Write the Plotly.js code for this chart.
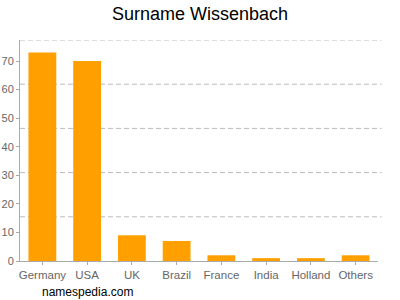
<!DOCTYPE html>
<html><head><meta charset="utf-8">
<script src="https://cdn.plot.ly/plotly-3.0.1.min.js"></script>
<style>html,body{margin:0;padding:0;background:#fff}#c{width:400px;height:300px}</style>
</head><body><div id="c"></div>
<script>
const categories = ["Germany","USA","UK","Brazil","France","India","Holland","Others"];
const values = [73,70,9,7,2,1,1,2];
const yTicks = [0,10,20,30,40,50,60,70];
const yMax = 77.35;
const gridLevels = [1,2,3,4,5].map(i => yMax*i/5);

const data = [
  {type:'bar', x:categories, y:values, marker:{color:'#ffa000'}, hoverinfo:'none'}
];
const layout = {
  width:400, height:300,
  margin:{l:20, r:22, t:40, b:39},
  paper_bgcolor:'#fff', plot_bgcolor:'#fff',
  showlegend:false, bargap:0.378,
  title:{text:'Surname Wissenbach', font:{family:'Liberation Sans, Arial, sans-serif', size:18, color:'#000'}, x:0.5, xanchor:'center', y:0.955, yanchor:'middle'},
  font:{family:'Liberation Sans, Arial, sans-serif', size:11, color:'#666'},
  xaxis:{showline:true, linecolor:'#aaa', linewidth:1, ticks:'outside', ticklen:3, tickcolor:'#aaa', showgrid:false, tickfont:{size:11.5, color:'#666'}, fixedrange:true},
  yaxis:{range:[0,yMax], tickvals:yTicks, ticktext:yTicks.map(String), showline:true, linecolor:'#aaa', linewidth:1, ticks:'outside', ticklen:3, tickcolor:'#aaa', showgrid:false, zeroline:false, tickfont:{size:11, color:'#666'}, fixedrange:true},
  shapes: gridLevels.map(v => ({type:'line', xref:'paper', yref:'y', x0:0, x1:1.01, y0:v, y1:v, layer:'below', line:{color:'#bbb', width:1, dash:'5px,3px'}})),
  annotations:[{text:'namespedia.com', xref:'paper', yref:'paper', x:(40-20)/358, xanchor:'left', y:-(292-261)/221, yanchor:'middle', showarrow:false, font:{family:'Liberation Sans, Arial, sans-serif', size:12, color:'#000'}}]
};
Plotly.newPlot('c', data, layout, {staticPlot:true});
</script></body></html>
